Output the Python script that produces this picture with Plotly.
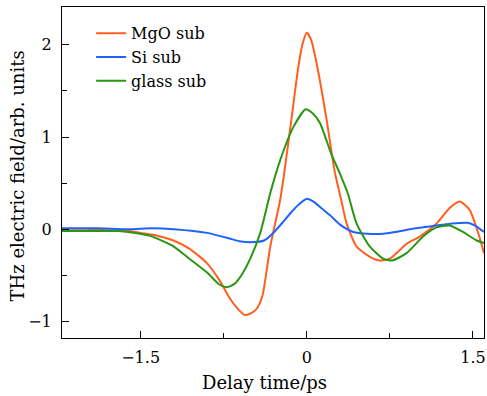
import plotly.graph_objects as go

# Data (delay time in ps, field in arb. units)
mgo_x = [-2.21, -2.0, -1.8, -1.6, -1.5, -1.35, -1.21, -1.06, -0.90, -0.79, -0.70, -0.61, -0.56, -0.50,
         -0.45, -0.40, -0.33, -0.24, -0.20, -0.14, -0.08, -0.04, 0.0, 0.04, 0.10, 0.18, 0.25, 0.31,
         0.36, 0.45, 0.57, 0.66, 0.75, 0.90, 1.02, 1.17, 1.29, 1.38, 1.47, 1.55, 1.60]
mgo_y = [-0.01, -0.01, -0.01, -0.02, -0.04, -0.07, -0.12, -0.21, -0.37, -0.55, -0.74, -0.88, -0.93, -0.91,
         -0.86, -0.72, -0.19, 0.32, 0.64, 1.18, 1.73, 2.00, 2.13, 2.05, 1.73, 1.18, 0.64, 0.32,
         0.06, -0.19, -0.30, -0.34, -0.32, -0.16, -0.08, 0.06, 0.23, 0.30, 0.21, -0.05, -0.26]

si_x = [-2.21, -1.9, -1.6, -1.4, -1.2, -0.90, -0.70, -0.61, -0.47, -0.38, -0.31, -0.22, -0.15, -0.07,
        0.0, 0.06, 0.12, 0.21, 0.30, 0.42, 0.55, 0.69, 0.80, 0.93, 1.05, 1.17, 1.30, 1.45, 1.52, 1.60]
si_y = [0.01, 0.01, 0.0, 0.01, 0.0, -0.04, -0.10, -0.13, -0.14, -0.12, -0.05, 0.07, 0.17, 0.27,
        0.33, 0.30, 0.24, 0.15, 0.05, -0.03, -0.05, -0.05, -0.03, 0.0, 0.02, 0.04, 0.06, 0.07, 0.04, -0.03]

glass_x = [-2.21, -1.9, -1.7, -1.55, -1.42, -1.21, -1.06, -0.90, -0.79, -0.72, -0.65, -0.58, -0.51,
           -0.42, -0.33, -0.24, -0.12, -0.01, 0.05, 0.12, 0.22, 0.30, 0.37, 0.45, 0.57, 0.69, 0.77,
           0.90, 1.05, 1.17, 1.29, 1.41, 1.53, 1.60]
glass_y = [-0.02, -0.02, -0.02, -0.04, -0.07, -0.18, -0.32, -0.47, -0.60, -0.63, -0.59, -0.48, -0.32,
           -0.04, 0.39, 0.75, 1.11, 1.30, 1.26, 1.15, 0.82, 0.60, 0.39, 0.06, -0.19, -0.32, -0.34,
           -0.26, -0.08, 0.02, 0.04, -0.03, -0.12, -0.15]

names = ["MgO sub", "Si sub", "glass sub"]
colors = ["#ff5f1f", "#1f63ff", "#2a9612"]

x_ticks = [-1.5, 0, 1.5]
x_tick_labels = ["\u22121.5", "0", "1.5"]
y_ticks = [-1, 0, 1, 2]
y_tick_labels = ["\u22121", "0", "1", "2"]
x_title = "Delay time/ps"
y_title = "THz electric field/arb. units"

FONT = "DejaVu Serif"
FS = 16

fig = go.Figure()
for xs, ys, nm, c in zip([mgo_x, si_x, glass_x], [mgo_y, si_y, glass_y], names, colors):
    fig.add_trace(go.Scatter(x=xs, y=ys, mode="lines", name=nm,
                             line=dict(color=c, width=2, shape="spline", smoothing=0.6)))

axis_common = dict(showline=True, linecolor="black", linewidth=1, mirror=True, automargin=False,
                   ticks="inside", ticklen=7, tickcolor="black", showgrid=False, zeroline=False,
                   tickfont=dict(family=FONT, size=FS, color="black"))

fig.update_xaxes(range=[-2.21, 1.6], tickvals=x_ticks, ticktext=x_tick_labels, ticklabelstandoff=5,
                 minor=dict(tickvals=[-0.75, 0.75], ticks="inside", ticklen=5, tickcolor="black"),
                 **axis_common)
fig.update_yaxes(range=[-1.18, 2.41], tickvals=y_ticks, ticktext=y_tick_labels, ticklabelstandoff=6,
                 minor=dict(tickvals=[-0.5, 0.5, 1.5], ticks="inside", ticklen=5, tickcolor="black"),
                 **axis_common)

fig.add_annotation(text=x_title, xref="paper", yref="paper", x=0.479, y=-0.133,
                   xanchor="center", yanchor="middle", showarrow=False,
                   font=dict(family=FONT, size=18, color="black"))
fig.add_annotation(text=y_title, xref="paper", yref="paper", x=-0.105, y=0.49,
                   xanchor="center", yanchor="middle", textangle=-90, showarrow=False,
                   font=dict(family=FONT, size=18, color="black"))

fig.update_layout(
    width=487, height=396,
    margin=dict(l=62, r=3, t=7, b=58),
    paper_bgcolor="white", plot_bgcolor="white",
    legend=dict(x=0.069, y=0.972, xanchor="left", yanchor="top", bgcolor="rgba(0,0,0,0)",
                font=dict(family=FONT, size=FS, color="black"), tracegroupgap=0),
    showlegend=True,
)

fig.write_html("out.html", config={"displayModeBar": False},
               post_script="document.body.style.margin='0';document.body.style.overflow='hidden';")
